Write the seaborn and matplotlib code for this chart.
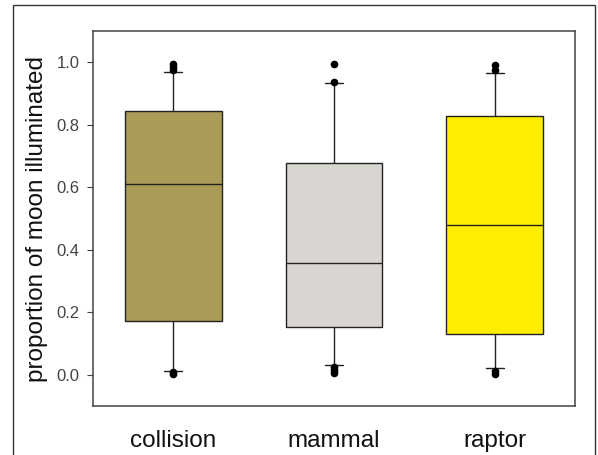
import numpy as np
import pandas as pd
import matplotlib
matplotlib.use("Agg")
import matplotlib.pyplot as plt
import seaborn as sns
from matplotlib.patches import Rectangle

categories = ["collision", "mammal", "raptor"]
box_colors = ["#AA9C56", "#D9D5D1", "#FFEE00"]

# summaries, whiskers are the 10th / 90th percentiles
whisker_low = [0.013, 0.032, 0.022]
quartile_1 = [0.172, 0.153, 0.130]
medians = [0.611, 0.357, 0.478]
quartile_3 = [0.844, 0.678, 0.828]
whisker_high = [0.968, 0.933, 0.965]
outliers_low = [[0.003, 0.008], [0.006, 0.015, 0.025], [0.004, 0.012]]
outliers_high = [[0.976, 0.986, 0.996], [0.938, 0.994], [0.975, 0.99]]


def observations(lo, wl, q1, med, q3, wh, hi):
    # 41 values laid out so the 10/25/50/75/90th percentiles land on the summary
    return (lo + [wl] * (5 - len(lo)) + [q1] * 6 + [med] * 10 + [q3] * 15
            + [wh] * (5 - len(hi)) + hi)


rows = []
for i, cat in enumerate(categories):
    vals = observations(outliers_low[i], whisker_low[i], quartile_1[i], medians[i],
                        quartile_3[i], whisker_high[i], outliers_high[i])
    rows += [(cat, v) for v in vals]
df = pd.DataFrame(rows, columns=["group", "moon"])

sns.set_style("ticks")
plt.rcParams["font.family"] = ["Liberation Sans", "DejaVu Sans"]

fig = plt.figure(figsize=(5.98, 4.55), dpi=100)
ax = fig.add_axes([93 / 598, 1 - 406 / 455, (575 - 93) / 598, (406 - 31) / 455])

sns.boxplot(data=df, x="group", y="moon", hue="group", order=categories,
            palette=box_colors, width=0.6, whis=(10, 90), saturation=1,
            linecolor="#222222", linewidth=1.0, fliersize=4.5, legend=False,
            flierprops=dict(marker="o", markerfacecolor="black", markeredgecolor="black"),
            ax=ax)

# short caps like the original
for line in ax.lines:
    xd, yd = np.asarray(line.get_xdata(), float), np.asarray(line.get_ydata(), float)
    if len(xd) == 2 and yd[0] == yd[1] and 0 < abs(xd[1] - xd[0]) < 0.5:
        c = xd.mean()
        line.set_xdata([c - 0.056, c + 0.056])

ax.set_xlim(-0.5, 2.5)
ax.set_ylim(-0.1, 1.1)
ax.set_yticks(np.arange(0, 1.01, 0.2))
ax.set_yticklabels([f"{v:.1f}" for v in np.arange(0, 1.01, 0.2)])
ax.set_xlabel("")
ax.set_ylabel("proportion of moon illuminated", fontsize=17.5, color="#111111", labelpad=6)
ax.tick_params(axis="x", length=0, pad=17, labelsize=17.5, labelcolor="#111111")
ax.tick_params(axis="y", length=4.5, width=0.8, color="#444444", pad=5,
               labelsize=12, labelcolor="#444444")
for sp in ax.spines.values():
    sp.set_visible(True)
    sp.set_color("#444444")
    sp.set_linewidth(1.1)

fig.patches.append(Rectangle((13 / 598, -0.05), (595 - 13) / 598, 1.05 - 5 / 455,
                             transform=fig.transFigure, fill=False,
                             edgecolor="#333333", linewidth=1.0))

fig.savefig("out.png", dpi=100)
